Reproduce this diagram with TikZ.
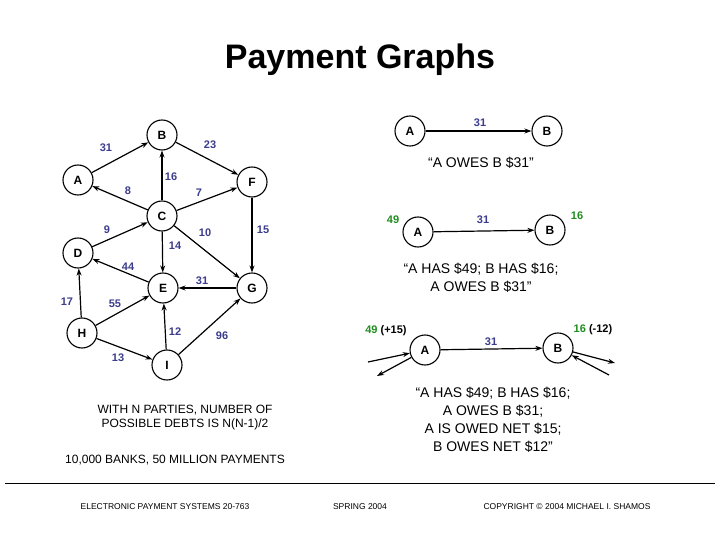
\documentclass[tikz,border=0pt]{standalone}
\usepackage{fontspec}
\setmainfont{Liberation Sans}
\usetikzlibrary{arrows.meta}
\definecolor{lbl}{RGB}{60,60,140}
\definecolor{grn}{RGB}{30,140,30}
\begin{document}
\begin{tikzpicture}[x=1pt,y=-1pt,
  nd/.style={circle,draw,line width=1.1pt,minimum size=30pt,inner sep=0pt,font=\fontsize{12}{12}\selectfont\bfseries},
  ed/.style={line width=1.2pt,-{Stealth[length=7pt,width=5pt]}},
  lb/.style={text=lbl,font=\fontsize{11}{11}\selectfont\bfseries},
  gl/.style={text=grn,font=\fontsize{11}{11}\selectfont\bfseries},
  tx/.style={font=\fontsize{14}{18}\selectfont,align=center},
  sm/.style={font=\fontsize{12}{14}\selectfont,align=center},
  ft/.style={font=\fontsize{8.5}{10}\selectfont}]
\useasboundingbox (0,0) rectangle (720,540);
\node[font=\fontsize{34}{34}\selectfont\bfseries] (title) at (360,60) {Payment Graphs};
% left graph
\node[nd] (A) at (78,180) {A};
\node[nd] (B) at (162,135) {B};
\node[nd] (F) at (252,182) {F};
\node[nd] (C) at (162,216) {C};
\node[nd] (D) at (78,253) {D};
\node[nd] (E) at (163,288) {E};
\node[nd] (G) at (252,288) {G};
\node[nd] (H) at (82,333) {H};
\node[nd] (I) at (167,365) {I};
\draw[ed] (A)--(B); \draw[ed] (B)--(F); \draw[ed] (C)--(B); \draw[ed] (C)--(A);
\draw[ed] (C)--(F); \draw[ed] (D)--(C); \draw[ed] (C)--(G); \draw[ed] (C)--(E);
\draw[ed] (F)--(G); \draw[ed] (E)--(D); \draw[ed] (G)--(E); \draw[ed] (H)--(E);
\draw[ed] (H)--(D); \draw[ed] (I)--(E); \draw[ed] (H)--(I); \draw[ed] (I)--(G);
\node[lb] (l1) at (106,148) {31}; \node[lb] (l2) at (210,145) {23};
\node[lb] (l3) at (171,177) {16}; \node[lb] (l4) at (128,191) {8};
\node[lb] (l5) at (199,193) {7}; \node[lb] (l6) at (107,230) {9};
\node[lb] (l7) at (205,233) {10}; \node[lb] (l8) at (263,230) {15};
\node[lb] (l9) at (175,246) {14}; \node[lb] (l10) at (128,267) {44};
\node[lb] (l11) at (202,281) {31}; \node[lb] (l12) at (67,302) {17};
\node[lb] (l13) at (115,304) {55}; \node[lb] (l14) at (175,332) {12};
\node[lb] (l15) at (222,336) {96}; \node[lb] (l16) at (118,358) {13};
% right top
\node[nd] (RA1) at (410,131) {A};
\node[nd] (RB1) at (547,131) {B};
\draw[ed] (RA1)--(RB1);
\node[lb] (r1) at (480,123) {31};
\node[tx] (t1) at (481,163) {“A OWES B \$31”};
\node[nd] (RA2) at (418,232) {A};
\node[nd] (RB2) at (550,230) {B};
\draw[ed] (RA2)--(RB2);
\node[lb] (r2) at (483,220) {31};
\node[gl] (g1) at (393,220) {49};
\node[gl] (g2) at (577,216) {16};
\node[tx] (t2) at (481,278) {“A HAS \$49; B HAS \$16;\\A OWES B \$31”};
\node[nd] (RA3) at (425,350) {A};
\node[nd] (RB3) at (558,348) {B};
\draw[ed] (RA3)--(RB3);
\node[lb] (r3) at (491,342) {31};
\node[font=\fontsize{11}{11}\selectfont\bfseries] (g3) at (386,331) {\textcolor{grn}{49} (+15)};
\node[font=\fontsize{11}{11}\selectfont\bfseries] (g4) at (593,330) {\textcolor{grn}{16} (-12)};
\coordinate (pa) at (368,362); \coordinate (pb) at (377,376);
\coordinate (pc) at (615,363); \coordinate (pd) at (609,375);
\draw[ed] (pa)--(RA3); \draw[ed] (RA3)--(pb);
\draw[ed] (RB3)--(pc); \draw[ed] (pd)--(RB3);
\node[tx] (t3) at (493,420) {“A HAS \$49; B HAS \$16;\\A OWES B \$31;\\A IS OWED NET \$15;\\B OWES NET \$12”};
\node[sm] (b1) at (185,418) {WITH N PARTIES, NUMBER OF\\POSSIBLE DEBTS IS N(N-1)/2};
\node[sm] (b2) at (175,460) {10,000 BANKS, 50 MILLION PAYMENTS};
\coordinate (h1) at (5,483); \coordinate (h2) at (715,483);
\draw[line width=0.8pt] (h1)--(h2);
\node[ft] (f1) at (165,507) {ELECTRONIC PAYMENT SYSTEMS 20-763};
\node[ft] (f2) at (360,507) {SPRING 2004};
\node[ft] (f3) at (567,507) {COPYRIGHT © 2004 MICHAEL I. SHAMOS};
\end{tikzpicture}
\end{document}
